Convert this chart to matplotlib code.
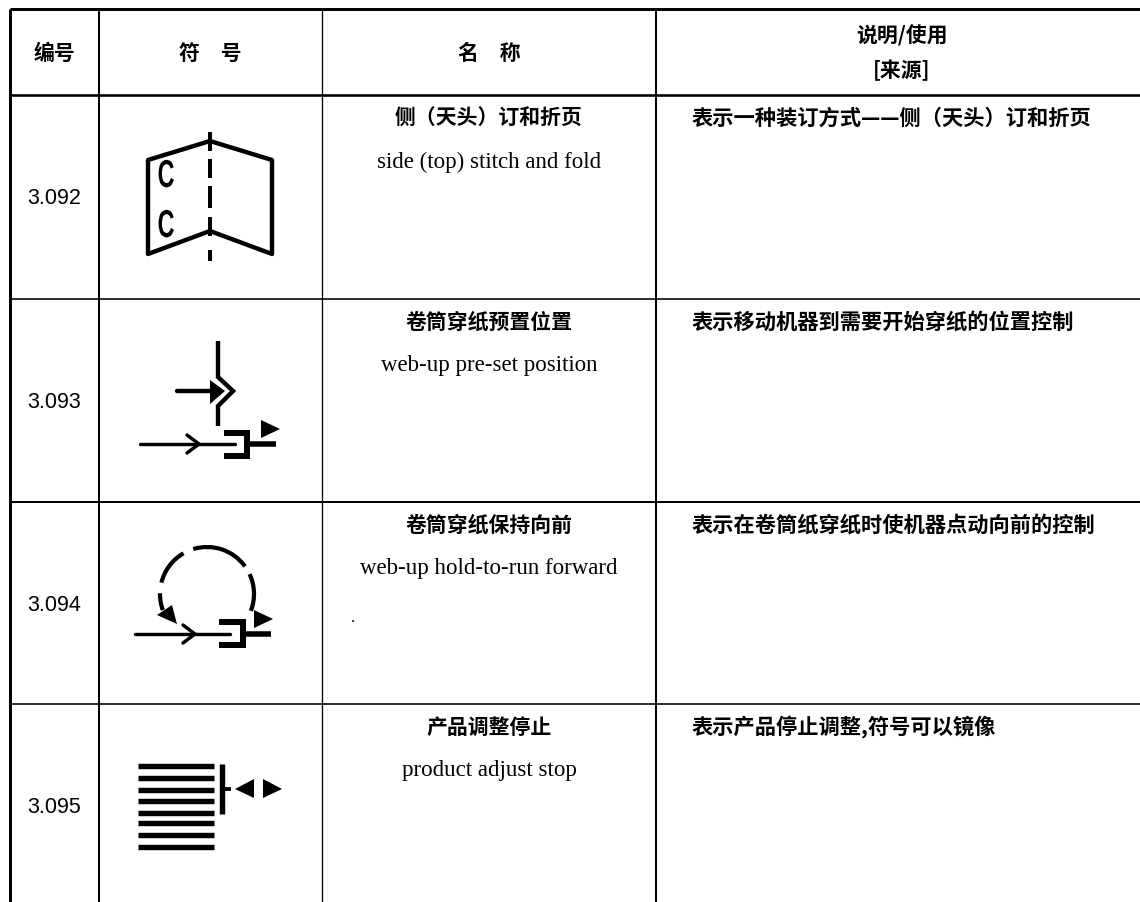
import matplotlib
matplotlib.use('Agg')
import matplotlib.pyplot as plt
import matplotlib.patheffects as pe
from matplotlib.patches import Arc, Polygon
from matplotlib.transforms import Affine2D

plt.rcParams['font.family'] = ['Noto Sans CJK SC', 'DejaVu Sans']

header_cols = ['编号', '符　号', '名　称', '说明/使用\n[来源]']
row_numbers = ['3.092', '3.093', '3.094', '3.095']
names_cn = ['侧（天头）订和折页', '卷筒穿纸预置位置', '卷筒穿纸保持向前', '产品调整停止']
names_en = ['side (top) stitch and fold', 'web-up pre-set position',
            'web-up hold-to-run forward', 'product adjust stop']
descriptions = ['表示一种装订方式——侧（天头）订和折页',
                '表示移动机器到需要开始穿纸的位置控制',
                '表示在卷筒纸穿纸时使机器点动向前的控制',
                '表示产品停止调整,符号可以镜像']

# table grid, in pixels of the picture
col_x = [9.5, 98.5, 321.5, 656]
col_w = [3, 2, 1.3, 2]
row_y = [10, 96, 300, 503, 705]
row_w = [3, 2.6, 1.6, 2, 1.6]

# symbol outlines
book_outline = [(210, 232), (148, 255), (148, 161), (210, 142), (272, 161), (272, 255), (210, 232)]
fold_dashes = [(133, 152), (160, 179), (187, 209), (218, 237), (251, 262)]
c_marks = [178, 228]
preset_line = [(218, 342), (218, 378), (233, 392), (218, 407), (218, 427)]
stack_y = [767.3, 779.3, 790.7, 801.7, 813.7, 824, 836, 847.7]
loop_arcs = [(36, 107), (-21, 25), (120, 166), (179, 200)]


def px(w):
    return w * 0.72


class Squeeze(pe.AbstractPathEffect):
    # the C in the book symbol is a tall narrow letter
    def __init__(self, cx, fx):
        super().__init__()
        self.cx = cx
        self.fx = fx

    def draw_path(self, renderer, gc, tpath, affine, rgbFace=None):
        a = affine + Affine2D().translate(-self.cx, 0).scale(self.fx, 1).translate(self.cx, 0)
        renderer.draw_path(gc, tpath, a, rgbFace)


fig = plt.figure(figsize=(11.4, 9.03), dpi=100)
ax = fig.add_axes([0, 0, 1, 1])
ax.set_xlim(0, 1140)
ax.set_ylim(903, 0)
ax.axis('off')


def line(pts, w, cap='round', join='miter'):
    xs, ys = zip(*pts)
    ax.plot(xs, ys, color='black', lw=px(w), solid_capstyle=cap, solid_joinstyle=join)


def tri(pts):
    ax.add_patch(Polygon(pts, closed=True, fc='black', ec='none'))


def web_feed(x0, x1, y, ax_x, bx0, bx1, by0, by1, stem_end, t):
    # input line with open arrow, bracket, stem and the small triangle
    line([(x0, y), (x1, y)], 3.4)
    line([(ax_x - 12, y - 9), (ax_x, y), (ax_x - 12, y + 9)], 3.4)
    line([(bx0, by0), (bx1, by0), (bx1, by1), (bx0, by1)], 6, cap='butt')
    line([(bx1, y), (stem_end, y)], 5.5, cap='butt')
    tri(t)


# grid
for x, w in zip(col_x, col_w):
    ax.plot([x, x], [row_y[0], 903], color='black', lw=px(w), solid_capstyle='butt')
for y, w in zip(row_y, row_w):
    ax.plot([col_x[0], 1140], [y, y], color='black', lw=px(w), solid_capstyle='butt')

# header
cx = [54, 210, 489, 902]
for x, h in zip(cx[:3], header_cols[:3]):
    ax.text(x, 53, h, ha='center', va='center', fontsize=15, fontweight='bold')
top, bottom = header_cols[3].split('\n')
ax.text(cx[3], 36, top, ha='center', va='center', fontsize=15, fontweight='bold')
ax.text(cx[3], 70, bottom, ha='center', va='center', fontsize=15, fontweight='bold')

# rows
for i in range(4):
    y0 = row_y[i + 1]
    ax.text(54, y0 + 103, row_numbers[i], ha='center', va='center', fontsize=15.5,
            family='Liberation Sans')
    ax.text(489, y0 + 22, names_cn[i], ha='center', va='center', fontsize=15, fontweight='bold')
    ax.text(489, y0 + 66, names_en[i], ha='center', va='center', fontsize=16.5,
            family='Liberation Serif')
    ax.text(692, y0 + 22, descriptions[i], ha='left', va='center', fontsize=15.3, fontweight='bold')

# 3.092 book
line(book_outline, 4.4, join='round')
for a, b in fold_dashes:
    line([(210, a), (210, b)], 4, cap='butt')
for y in c_marks:
    t = ax.text(166, y, 'C', ha='center', va='center', fontsize=28, family='Liberation Sans',
                fontweight='bold')
    t.set_path_effects([Squeeze(166, 0.6)])

# 3.093
line(preset_line, 4.4, cap='butt')
line([(177, 392), (212, 392)], 4.4)
tri([(210, 381), (225, 392), (210, 405)])
web_feed(140, 235, 445, 199, 224, 247, 434, 457, 276, [(261, 421), (280, 430), (261, 439)])

# 3.094
for a, b in loop_arcs:
    ax.add_patch(Arc((207, 595), 94, 94, theta1=-b, theta2=-a, color='black', lw=px(4.2)))
tri([(157, 616), (172, 606), (177, 625)])
web_feed(135, 230, 635, 195, 219, 243, 623, 646, 271, [(254, 611), (273, 620), (254, 629)])

# 3.095
for y in stack_y:
    line([(138, y), (214, y)], 5.4, cap='butt')
line([(222, 765), (222, 815)], 5.4, cap='butt')
line([(222, 790), (231, 790)], 3.8, cap='butt')
tri([(235, 790), (254, 780), (254, 799)])
tri([(263, 780), (282, 790), (263, 799)])

# scan speck
ax.plot([353], [622], 's', color='#444444', ms=1.6, mew=0)

plt.savefig('out.png', dpi=100)
